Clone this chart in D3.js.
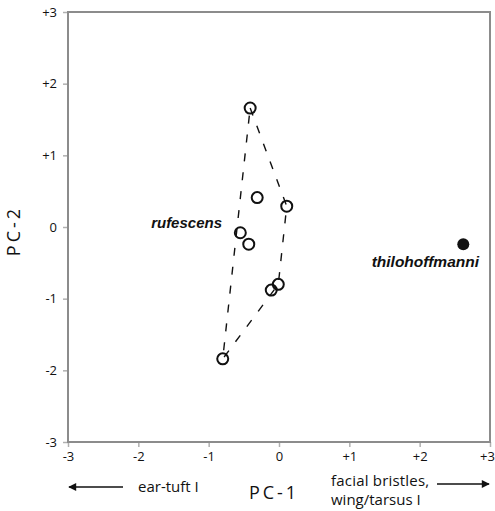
<!DOCTYPE html>
<html>
<head>
<meta charset="utf-8">
<script src="https://cdn.jsdelivr.net/npm/d3@7"></script>
<style>
  body { margin: 0; background: #fff; }
  svg { display: block; }
</style>
</head>
<body>
<script>
// rufescens individuals (PC-1, PC-2)
const rufX = [-0.41, -0.31, 0.11, -0.55, -0.43, -0.11, -0.01, -0.80]
const rufY = [1.66, 0.41, 0.29, -0.08, -0.24, -0.88, -0.80, -1.84]
// hull order (indices into the arrays above)
const hullIdx = [0, 2, 6, 7, 0]
// thilohoffmanni
const thiX = [2.62]
const thiY = [-0.24]
const tickVals = [-3, -2, -1, 0, 1, 2, 3]

const W = 495, H = 511
const margin = { top: 12, right: 5, bottom: 69, left: 68 }

const svg = d3.select("body").append("svg")
    .attr("width", W)
    .attr("height", H)

const x = d3.scaleLinear().domain([-3, 3]).range([margin.left, W - margin.right])
const y = d3.scaleLinear().domain([-3, 3]).range([H - margin.bottom, margin.top])

const fmt = d => d > 0 ? "+" + d : d < 0 ? "-" + Math.abs(d) : "0"

//axes
svg.append("g")
    .attr("transform", "translate(0," + y(-3) + ")")
    .call(d3.axisBottom(x).tickValues(tickVals).tickFormat(fmt).tickSize(5).tickPadding(5))
svg.append("g")
    .attr("transform", "translate(" + x(-3) + ",0)")
    .call(d3.axisLeft(y).tickValues(tickVals).tickFormat(fmt).tickSize(5).tickPadding(6))

svg.selectAll(".domain").remove()
svg.selectAll(".tick line").attr("stroke", "#b0b0b0").attr("stroke-width", 1.5)
svg.selectAll(".tick text")
    .attr("font-family", "'Open Sans', sans-serif")
    .attr("font-size", 13)
    .attr("fill", "#111")
// le +3 de droite touche le bord
svg.selectAll(".tick text").filter(function (d) {
    return d === 3 && this.getAttribute("y") > 0
}).attr("dx", -3)

//cadre
svg.append("rect")
    .attr("x", x(-3))
    .attr("y", y(3))
    .attr("width", x(3) - x(-3))
    .attr("height", y(-3) - y(3))
    .attr("fill", "none")
    .attr("stroke", "#8c8c8c")
    .attr("stroke-width", 2)

//enveloppe en tirets
const line = d3.line()
    .x(i => x(rufX[i]))
    .y(i => y(rufY[i]))
svg.append("path")
    .attr("d", line(hullIdx))
    .attr("fill", "none")
    .attr("stroke", "#111")
    .attr("stroke-width", 1.4)
    .attr("stroke-dasharray", "8,11")

//points
svg.append("g").selectAll("circle")
    .data(rufX)
    .join("circle")
    .attr("cx", d => x(d))
    .attr("cy", (d, i) => y(rufY[i]))
    .attr("r", 5.5)
    .attr("fill", "none")
    .attr("stroke", "#111")
    .attr("stroke-width", 2)

svg.append("g").selectAll("circle")
    .data(thiX)
    .join("circle")
    .attr("cx", d => x(d))
    .attr("cy", (d, i) => y(thiY[i]))
    .attr("r", 6)
    .attr("fill", "#111")

//étiquettes
const italic = "'Liberation Sans', Arial, sans-serif"
svg.append("text")
    .attr("x", 222).attr("y", 228)
    .attr("text-anchor", "end")
    .attr("font-family", italic).attr("font-style", "italic").attr("font-weight", "bold")
    .attr("font-size", 15).attr("fill", "#111")
    .text("rufescens")
svg.append("text")
    .attr("x", 479).attr("y", 267)
    .attr("text-anchor", "end")
    .attr("font-family", italic).attr("font-style", "italic").attr("font-weight", "bold")
    .attr("font-size", 15.5).attr("fill", "#111")
    .text("thilohoffmanni")

//titres des axes
svg.append("text")
    .attr("x", 274).attr("y", 499)
    .attr("text-anchor", "middle")
    .attr("font-family", "'Open Sans', sans-serif")
    .attr("font-size", 18).attr("letter-spacing", 3).attr("fill", "#111")
    .text("PC-1")
svg.append("text")
    .attr("transform", "translate(20,231) rotate(-90)")
    .attr("text-anchor", "middle")
    .attr("font-family", "'Open Sans', sans-serif")
    .attr("font-size", 18).attr("letter-spacing", 3).attr("fill", "#111")
    .text("PC-2")

//flèches
svg.append("defs").append("marker")
    .attr("id", "arr")
    .attr("viewBox", "0 0 10 10")
    .attr("refX", 9).attr("refY", 5)
    .attr("markerWidth", 9).attr("markerHeight", 8)
    .attr("markerUnits", "userSpaceOnUse")
    .attr("orient", "auto")
    .append("path")
    .attr("d", "M0,0 L10,5 L0,10 z")
    .attr("fill", "#111")

svg.append("line")
    .attr("x1", 123).attr("y1", 487).attr("x2", 69).attr("y2", 487)
    .attr("stroke", "#111").attr("stroke-width", 1.3)
    .attr("marker-end", "url(#arr)")
svg.append("line")
    .attr("x1", 437).attr("y1", 484).attr("x2", 489).attr("y2", 484)
    .attr("stroke", "#111").attr("stroke-width", 1.3)
    .attr("marker-end", "url(#arr)")

const small = "'Open Sans', sans-serif"
svg.append("text")
    .attr("x", 138).attr("y", 492)
    .attr("font-family", small).attr("font-size", 15).attr("fill", "#111")
    .text("ear-tuft I")
svg.append("text")
    .attr("x", 331).attr("y", 486)
    .attr("font-family", small).attr("font-size", 15).attr("letter-spacing", 0.2).attr("fill", "#111")
    .text("facial bristles,")
svg.append("text")
    .attr("x", 331).attr("y", 505)
    .attr("font-family", small).attr("font-size", 15).attr("fill", "#111")
    .text("wing/tarsus I")
</script>
</body>
</html>
